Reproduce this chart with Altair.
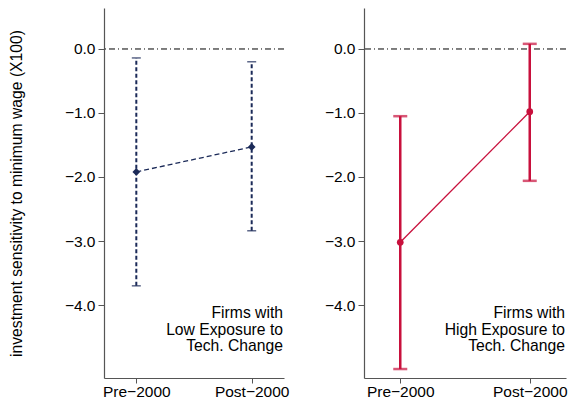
import altair as alt
import pandas as pd

periods = ["Pre\u22122000", "Post\u22122000"]
low_coef = [-1.92, -1.53]
low_lo = [-3.70, -2.84]
low_hi = [-0.14, -0.20]
high_coef = [-3.02, -0.98]
high_lo = [-5.00, -2.06]
high_hi = [-1.05, 0.08]
y_ticks = [0.0, -1.0, -2.0, -3.0, -4.0]
low_note = ["Firms with", "Low Exposure to", "Tech. Change"]
high_note = ["Firms with", "High Exposure to", "Tech. Change"]

NAVY = "#1b2a58"
RED = "#c8103c"
FONT = "Liberation Sans"


def panel(coef, lo, hi, note, color, w, dashed, show_title):
    df = pd.DataFrame({"period": periods, "coef": coef, "lo": lo, "hi": hi})
    base = alt.Chart(df)
    xenc = alt.X("period:N", sort=periods,
                 scale=alt.Scale(type="point", padding=0.28),
                 axis=alt.Axis(title=None, labelAngle=0, tickSize=5, labelPadding=1))
    yscale = alt.Scale(domain=[-5.14, 0.64], nice=False, zero=False)
    yaxis = alt.Axis(values=y_ticks, format=".1f", tickSize=6, labelPadding=3,
                     title="investment sensitivity to minimum wage (X100)" if show_title else None,
                     titlePadding=40)
    zero = base.mark_rule(color="#555555", strokeWidth=1, strokeDash=[6, 3, 1, 3]).encode(
        y=alt.datum(0.0, scale=yscale, axis=yaxis))
    if dashed:
        bars = base.mark_rule(color=color, strokeWidth=2, strokeDash=[4, 2.5]).encode(
            x=xenc, y=alt.Y("lo:Q", scale=yscale, axis=yaxis), y2="hi:Q")
        cap_lo = base.mark_tick(color=color, orient="horizontal", size=9, thickness=1.5,
                                strokeDash=[3, 1]).encode(x=xenc, y=alt.Y("lo:Q", scale=yscale))
        cap_hi = base.mark_tick(color=color, orient="horizontal", size=9, thickness=1.5,
                                strokeDash=[3, 1]).encode(x=xenc, y=alt.Y("hi:Q", scale=yscale))
        line = base.mark_line(color=color, strokeWidth=1.3, strokeDash=[5, 3]).encode(
            x=xenc, y=alt.Y("coef:Q", scale=yscale))
        pts = base.mark_point(shape="diamond", filled=True, size=60, color=color, opacity=1).encode(
            x=xenc, y=alt.Y("coef:Q", scale=yscale))
    else:
        bars = base.mark_rule(color=color, strokeWidth=2.5).encode(
            x=xenc, y=alt.Y("lo:Q", scale=yscale, axis=yaxis), y2="hi:Q")
        cap_lo = base.mark_tick(color=color, orient="horizontal", size=14, thickness=2.5).encode(
            x=xenc, y=alt.Y("lo:Q", scale=yscale))
        cap_hi = base.mark_tick(color=color, orient="horizontal", size=14, thickness=2.5).encode(
            x=xenc, y=alt.Y("hi:Q", scale=yscale))
        line = base.mark_line(color=color, strokeWidth=1.3).encode(
            x=xenc, y=alt.Y("coef:Q", scale=yscale))
        pts = base.mark_point(shape="circle", filled=True, size=45, color=color, opacity=1).encode(
            x=xenc, y=alt.Y("coef:Q", scale=yscale))
    txt = alt.Chart(pd.DataFrame({"a": [0]})).mark_text(
        text=note, align="right", baseline="middle", fontSize=15.7, lineHeight=16.5,
        font=FONT, color="black").encode(x=alt.value(w - 1), y=alt.value(305))
    return alt.layer(zero, bars, cap_lo, cap_hi, line, pts, txt).properties(width=w, height=370)


left = panel(low_coef, low_lo, low_hi, low_note, NAVY, 180, True, True)
right = panel(high_coef, high_lo, high_hi, high_note, RED, 202, False, False)

chart = alt.hconcat(left, right, spacing=35).properties(padding=0).configure_view(
    stroke=None).configure_axis(
    labelFont=FONT, titleFont=FONT, labelFontSize=15.5, titleFontSize=15.7,
    titleFontWeight="normal", labelColor="black", titleColor="black",
    domainColor="#555555", tickColor="#555555", grid=False, domainWidth=1.2)

chart.save("out.html", embed_options={"renderer": "svg", "actions": False})
